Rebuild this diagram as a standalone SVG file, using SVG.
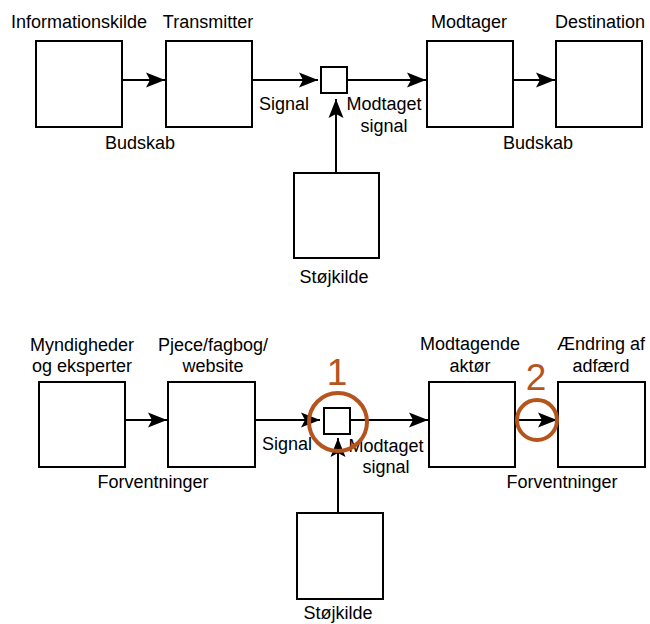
<svg xmlns="http://www.w3.org/2000/svg" width="650" height="624" viewBox="0 0 650 624">
<style>
.box{fill:#fff;stroke:#000;stroke-width:2}
.ln{fill:none;stroke:#000;stroke-width:2}
.t{font-family:"Liberation Sans",Arial,sans-serif;font-size:18px;fill:#000}
.m{text-anchor:middle}
.ring{fill:none;stroke:#B5541C;stroke-width:4}
.num{font-family:"Liberation Sans",Arial,sans-serif;font-size:37px;fill:#B5541C;text-anchor:middle}
</style>
<defs>
<marker id="ah" markerUnits="userSpaceOnUse" markerWidth="19" markerHeight="16" refX="19" refY="8" orient="auto">
<path d="M0,0.5 L19,8 L0,15.5 L4,8 Z" fill="#000"/>
</marker>
</defs>
<rect width="650" height="624" fill="#fff"/>
<g id="connectors">
<line class="ln" x1="122" y1="80" x2="165" y2="80" marker-end="url(#ah)"/>
<line class="ln" x1="252" y1="80" x2="318" y2="80" marker-end="url(#ah)"/>
<line class="ln" x1="347" y1="80" x2="426" y2="80" marker-end="url(#ah)"/>
<line class="ln" x1="513" y1="80" x2="555" y2="80" marker-end="url(#ah)"/>
<line class="ln" x1="336" y1="173" x2="336" y2="99" marker-end="url(#ah)"/>
<line class="ln" x1="125" y1="420" x2="167" y2="420" marker-end="url(#ah)"/>
<line class="ln" x1="255" y1="420" x2="320" y2="420" marker-end="url(#ah)"/>
<line class="ln" x1="350" y1="420" x2="428" y2="420" marker-end="url(#ah)"/>
<line class="ln" x1="515" y1="420" x2="557" y2="420" marker-end="url(#ah)"/>
<line class="ln" x1="338" y1="513" x2="338" y2="438" marker-end="url(#ah)"/>
</g>
<g id="top-source"><rect class="box" x="36" y="41" width="86" height="86"/><text class="t m" x="79" y="28">Informationskilde</text></g>
<g id="top-transmitter"><rect class="box" x="166" y="41" width="86" height="86"/><text class="t m" x="208" y="28">Transmitter</text></g>
<g id="top-junction"><rect class="box" x="321" y="67" width="26" height="26"/></g>
<g id="top-receiver"><rect class="box" x="427" y="41" width="86" height="86"/><text class="t m" x="469" y="28">Modtager</text></g>
<g id="top-destination"><rect class="box" x="556" y="41" width="86" height="86"/><text class="t m" x="600" y="28">Destination</text></g>
<g id="top-noise"><rect class="box" x="294" y="173" width="85" height="85"/><text class="t m" x="334" y="283">Støjkilde</text></g>
<g id="top-labels">
<text class="t" x="259" y="110">Signal</text>
<text class="t m" x="140" y="149">Budskab</text>
<text class="t m" x="384" y="110">Modtaget</text>
<text class="t m" x="384" y="132">signal</text>
<text class="t m" x="538" y="149">Budskab</text>
</g>
<g id="bot-source"><rect class="box" x="39" y="382" width="86" height="85"/><text class="t m" x="82" y="351">Myndigheder</text><text class="t m" x="82" y="372">og eksperter</text></g>
<g id="bot-transmitter"><rect class="box" x="168" y="382" width="87" height="85"/><text class="t m" x="213" y="351">Pjece/fagbog/</text><text class="t m" x="213" y="372">website</text></g>
<g id="bot-junction"><rect class="box" x="324" y="408" width="26" height="26"/></g>
<g id="bot-receiver"><rect class="box" x="429" y="382" width="86" height="85"/><text class="t m" x="470" y="350">Modtagende</text><text class="t m" x="470" y="372">aktør</text></g>
<g id="bot-destination"><rect class="box" x="558" y="382" width="87" height="85"/><text class="t m" x="601" y="350">Ændring af</text><text class="t m" x="601" y="372">adfærd</text></g>
<g id="bot-noise"><rect class="box" x="297" y="513" width="86" height="86"/><text class="t m" x="338" y="619">Støjkilde</text></g>
<g id="bot-labels">
<text class="t" x="262" y="450">Signal</text>
<text class="t m" x="153" y="488">Forventninger</text>
<text class="t m" x="386" y="452">Modtaget</text>
<text class="t m" x="386" y="473">signal</text>
<text class="t m" x="562" y="488">Forventninger</text>
</g>
<g id="marker-1"><circle class="ring" cx="338" cy="422" r="29"/><text class="num" x="337" y="385">1</text></g>
<g id="marker-2"><circle class="ring" cx="537" cy="420" r="20"/><text class="num" x="536" y="390">2</text></g>
</svg>
